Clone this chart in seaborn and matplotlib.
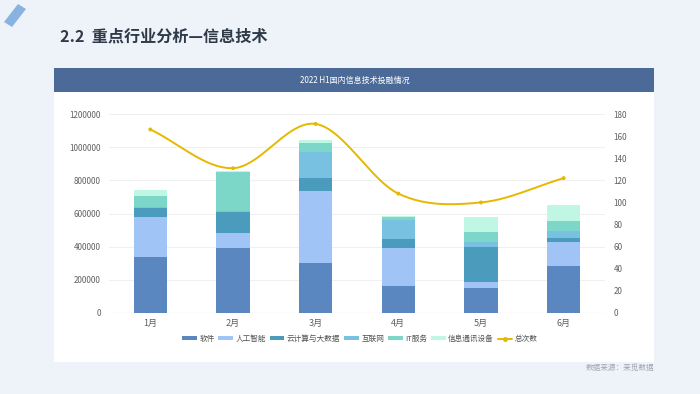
import matplotlib
matplotlib.use('Agg')
import matplotlib.pyplot as plt
import matplotlib.patches as mpatches
from matplotlib.lines import Line2D
import numpy as np
import pandas as pd
import seaborn as sns

# ------------------------- data -------------------------
months = ['1月', '2月', '3月', '4月', '5月', '6月']
series_names = ['软件', '人工智能', '云计算与大数据', '互联网', 'IT服务', '信息通讯设备']
software = [336000, 390000, 300000, 160000, 148000, 284000]
ai = [244000, 94000, 438000, 234000, 40000, 144000]
cloud = [52000, 128000, 78000, 52000, 212000, 26000]
internet = [8000, 4000, 152000, 112000, 28000, 38000]
it_service = [64000, 234000, 56000, 22000, 60000, 64000]
telecom = [36000, 6000, 20000, 4000, 92000, 96000]
total_count = [166, 131, 171, 108, 100, 122]

colors = ['#5a87c0', '#a0c4f6', '#4b9bbd', '#78c1e1', '#7dd7c9', '#c0f6e4']
line_color = '#e6b800'

W, H = 700, 394


def fx(px):
    return px / W


def fy(py):
    return 1 - py / H


sns.set_theme(style='white')
plt.rcParams['font.family'] = ['Noto Sans CJK SC', 'DejaVu Sans']

fig = plt.figure(figsize=(7, 3.94), dpi=100)
fig.patch.set_facecolor('#eef2f9')

# card and header bar
fig.patches.append(mpatches.Rectangle((fx(54), fy(362)), fx(600), (362 - 68) / H,
                                      transform=fig.transFigure, facecolor='white',
                                      edgecolor='none', zorder=-2))
fig.patches.append(mpatches.Rectangle((fx(54), fy(92)), fx(600), 24 / H,
                                      transform=fig.transFigure, facecolor='#4b6a97',
                                      edgecolor='none', zorder=-1))
# small decoration top-left
fig.patches.append(mpatches.Polygon([(fx(4), fy(22)), (fx(18), fy(4)), (fx(26), fy(9)),
                                     (fx(12), fy(27))], closed=True,
                                    transform=fig.transFigure, facecolor='#6fa4dc',
                                    edgecolor='none', alpha=0.8, zorder=-1))

fig.text(fx(60), fy(36), '2.2  重点行业分析—信息技术', fontsize=11.6, fontweight='bold',
         color='#2f3a48', va='center', ha='left')
fig.text(fx(355), fy(80), '2022 H1国内信息技术投融情况', fontsize=5.8, color='white',
         va='center', ha='center')
fig.text(fx(654), fy(368), '数据来源：来觅数据', fontsize=5.5, color='#a0a6b0',
         va='center', ha='right')

# ------------------------- chart -------------------------
ax = fig.add_axes([fx(109), fy(313), fx(496), (313 - 114) / H])
ax.set_facecolor('none')

df = pd.DataFrame({'month': months})
stack = np.zeros(len(months))
layers = []
for name, vals in zip(series_names, [software, ai, cloud, internet, it_service, telecom]):
    stack = stack + np.array(vals)
    layers.append((name, stack.copy()))

# draw from tallest cumulative layer to the lowest so each segment shows
for (name, cum), col in reversed(list(zip(layers, colors))):
    df['v'] = cum
    sns.barplot(data=df, x='month', y='v', color=col, width=0.4, ax=ax,
                saturation=1, edgecolor='none', zorder=2)

ax.set_ylim(0, 1200000)
ax.set_yticks(np.arange(0, 1200001, 200000))
ax.set_yticklabels([str(int(v)) for v in np.arange(0, 1200001, 200000)])
ax.set_xlabel('')
ax.set_ylabel('')
ax.grid(axis='y', color='#f0f0f0', linewidth=0.8, zorder=0)
ax.set_axisbelow(True)
for s in ax.spines.values():
    s.set_visible(False)
ax.axhline(0, color='#dcdcdc', linewidth=0.8, zorder=1)
ax.tick_params(axis='y', length=0, labelsize=5.8, labelcolor='#606060', pad=6)
ax.tick_params(axis='x', length=0, labelsize=6.5, labelcolor='#606060', pad=4)

# total count on right axis, smooth curve through the points
ax2 = ax.twinx()
ax2.set_ylim(0, 180)
ax2.set_yticks(np.arange(0, 181, 20))
for s in ax2.spines.values():
    s.set_visible(False)
ax2.tick_params(axis='y', length=0, labelsize=5.8, labelcolor='#606060', pad=6)
ax2.grid(False)

xs = np.arange(len(months), dtype=float)
ys = np.array(total_count, dtype=float)
px = np.concatenate([[2 * xs[0] - xs[1]], xs, [2 * xs[-1] - xs[-2]]])
py = np.concatenate([[2 * ys[0] - ys[1]], ys, [2 * ys[-1] - ys[-2]]])
cx, cy = [], []
t = np.linspace(0, 1, 40)
for i in range(1, len(px) - 2):
    p0, p1, p2, p3 = py[i - 1], py[i], py[i + 1], py[i + 2]
    q0, q1, q2, q3 = px[i - 1], px[i], px[i + 1], px[i + 2]
    cy.append(0.5 * (2 * p1 + (-p0 + p2) * t + (2 * p0 - 5 * p1 + 4 * p2 - p3) * t ** 2
                     + (-p0 + 3 * p1 - 3 * p2 + p3) * t ** 3))
    cx.append(0.5 * (2 * q1 + (-q0 + q2) * t + (2 * q0 - 5 * q1 + 4 * q2 - q3) * t ** 2
                     + (-q0 + 3 * q1 - 3 * q2 + q3) * t ** 3))
ax2.plot(np.concatenate(cx), np.concatenate(cy), color=line_color, linewidth=1.4, zorder=5)
sns.scatterplot(x=xs, y=ys, ax=ax2, color=line_color, s=8, edgecolor='none', zorder=6,
                legend=False)
ax.set_xlim(-0.5, len(months) - 0.5)
ax2.set_xlim(-0.5, len(months) - 0.5)

# legend
handles = [mpatches.Patch(facecolor=c, edgecolor='none', label=n)
           for n, c in zip(series_names, colors)]
handles.append(Line2D([0], [0], color=line_color, linewidth=1.4, marker='o', markersize=2.5,
                      label='总次数'))
fig.legend(handles=handles, loc='center', bbox_to_anchor=(fx(360), fy(339)), ncol=7,
           frameon=False, fontsize=5.5, handlelength=1.9, handleheight=0.45,
           handletextpad=0.35, columnspacing=0.5, labelcolor='#505050')

fig.savefig('out.png', dpi=100, facecolor=fig.get_facecolor())
